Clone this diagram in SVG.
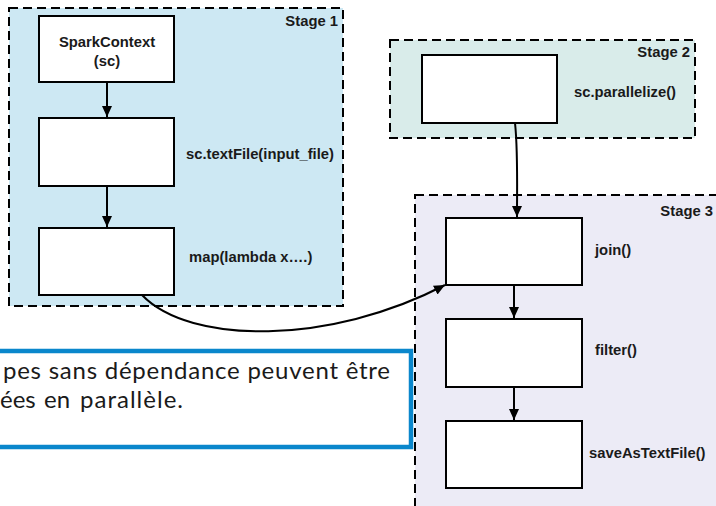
<svg xmlns="http://www.w3.org/2000/svg" width="716" height="506" viewBox="0 0 716 506">
  <defs>
    <marker id="arrow" markerUnits="userSpaceOnUse" markerWidth="12" markerHeight="10" refX="11" refY="5" orient="auto">
      <path d="M0,0 L11,5 L0,10 Z" fill="#000"/>
    </marker>
    <style>
      .stage { stroke: #000; stroke-width: 2; stroke-dasharray: 9 5; }
      .node { fill: #fff; stroke: #000; stroke-width: 2; }
      .lbl { font-family: "Liberation Sans", Arial, sans-serif; font-weight: bold; font-size: 14.8px; fill: #1a1a1a; }
      .edge { fill: none; stroke: #000; stroke-width: 2; marker-end: url(#arrow); }
      .note { font-family: "Lato", "Open Sans", sans-serif; font-size: 24px; fill: #1a1a1a; }
    </style>
  </defs>

  <rect width="716" height="506" fill="#fff"/>

  <!-- stage frames -->
  <g id="stage1">
    <rect class="stage" x="9" y="8" width="334" height="298" fill="#cde8f3"/>
    <text class="lbl" x="338" y="26" text-anchor="end">Stage 1</text>
  </g>
  <g id="stage2">
    <rect class="stage" x="390" y="40" width="305" height="98" fill="#d9ecea"/>
    <text class="lbl" x="690" y="57" text-anchor="end">Stage 2</text>
  </g>
  <g id="stage3">
    <rect class="stage" x="415" y="195" width="330" height="330" fill="#ecebf6"/>
    <text class="lbl" x="713" y="216" text-anchor="end">Stage 3</text>
  </g>

  <!-- stage 1 nodes -->
  <g id="sparkcontext">
    <rect class="node" x="39" y="16" width="135" height="66"/>
    <text class="lbl" x="107" y="47" text-anchor="middle">SparkContext</text>
    <text class="lbl" x="107" y="66" text-anchor="middle">(sc)</text>
  </g>
  <g id="textfile">
    <rect class="node" x="39" y="118" width="135" height="68"/>
    <text class="lbl" x="186" y="159">sc.textFile(input_file)</text>
  </g>
  <g id="map">
    <rect class="node" x="39" y="228" width="135" height="67"/>
    <text class="lbl" x="189" y="262">map(lambda x….)</text>
  </g>

  <!-- stage 2 node -->
  <g id="parallelize">
    <rect class="node" x="422" y="55" width="135" height="68"/>
    <text class="lbl" x="574" y="97">sc.parallelize()</text>
  </g>

  <!-- stage 3 nodes -->
  <g id="join">
    <rect class="node" x="446" y="218" width="136" height="67"/>
    <text class="lbl" x="595" y="255">join()</text>
  </g>
  <g id="filter">
    <rect class="node" x="446" y="319" width="136" height="68"/>
    <text class="lbl" x="595" y="355">filter()</text>
  </g>
  <g id="save">
    <rect class="node" x="446" y="421" width="136" height="67"/>
    <text class="lbl" x="589" y="458">saveAsTextFile()</text>
  </g>

  <!-- connectors -->
  <g id="edges">
    <path class="edge" d="M107,82 L107,117"/>
    <path class="edge" d="M107,186 L107,227"/>
    <path class="edge" d="M514,285 L514,318"/>
    <path class="edge" d="M514,387 L514,420"/>
    <path class="edge" d="M515,123 C518,150 517,185 517,217"/>
    <path class="edge" d="M142,295 C190,345 330,345 445,285"/>
  </g>

  <!-- callout -->
  <g id="callout">
    <rect x="-20" y="351" width="431" height="96" fill="#fff" stroke="#0a87cc" stroke-width="4.5"/>
    <text class="note" x="3" y="379" textLength="387" lengthAdjust="spacing">pes sans dépendance peuvent être</text>
    <text class="note" y="408"><tspan x="0">ées</tspan><tspan x="44">en</tspan><tspan x="80" textLength="103" lengthAdjust="spacing">parallèle.</tspan></text>
  </g>
</svg>
